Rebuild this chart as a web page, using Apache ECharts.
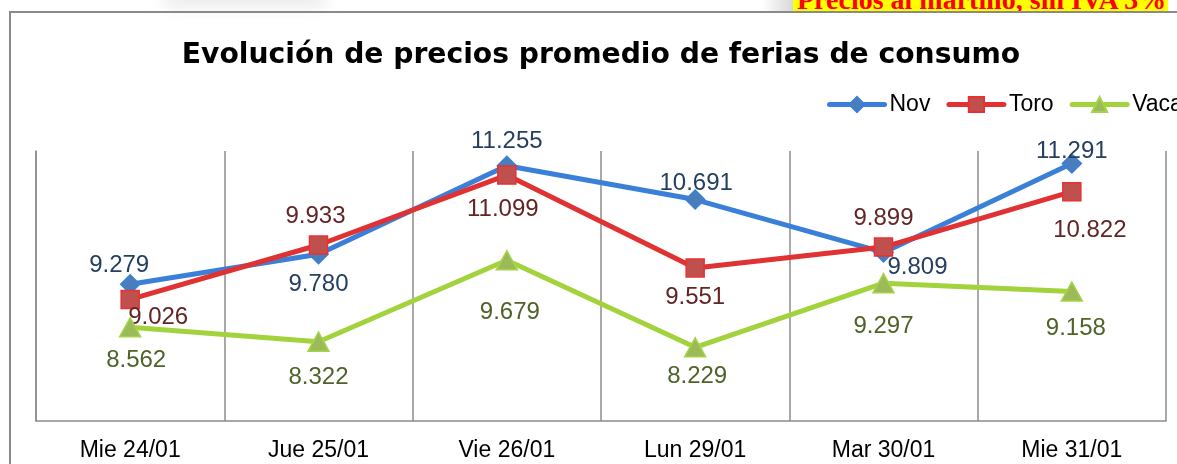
<!DOCTYPE html>
<html>
<head>
<meta charset="utf-8">
<script src="https://cdn.jsdelivr.net/npm/echarts@6/dist/echarts.min.js"></script>
<style>
  html, body { margin: 0; padding: 0; background: #fff; overflow: hidden; width: 1177px; height: 464px; }
  #frame { position: absolute; left: 9px; top: 11px; width: 1300px; height: 600px;
           border-left: 2px solid #8a8a8a; border-top: 2px solid #8a8a8a; }
  #smudge { position: absolute; left: 165px; top: -10px; width: 160px; height: 16px;
            background: #e8e8e8; filter: blur(8px); }
  #bannerShade { position: absolute; left: 762px; top: 0; width: 31px; height: 11px;
                 background: linear-gradient(to right, #fff, #d8d8d8); }
  #banner { position: absolute; left: 793px; top: 0; width: 375px; height: 11px;
            background: #ffff00; overflow: hidden; }
  #banner span { position: absolute; left: 4px; top: -16px; white-space: nowrap;
                 font: bold 28px "Liberation Serif", serif; color: #ff0000; }
  #chart { position: absolute; left: 0; top: 0; width: 1202px; height: 464px; }
</style>
</head>
<body>
<div id="smudge"></div>
<div id="bannerShade"></div>
<div id="banner"><span>Precios al martillo, sin IVA 3%</span></div>
<div id="frame"></div>
<div id="chart"></div>
<script>
// chart data
const days = ['Mie 24/01', 'Jue 25/01', 'Vie 26/01', 'Lun 29/01', 'Mar 30/01', 'Mie 31/01'];
const novValues = [9.279, 9.780, 11.255, 10.691, 9.809, 11.291];
const toroValues = [9.026, 9.933, 11.099, 9.551, 9.899, 10.822];
const vacaValues = [8.562, 8.322, 9.679, 8.229, 9.297, 9.158];

// where each value label sits relative to its marker (px)
const novLabelOffsets = [[-11, -19], [0, 30], [0, -24], [1, -16], [34, 15], [0, -12]];
const toroLabelOffsets = [[28, 18], [-3, -29], [-4, 34], [0, 29], [0, -29], [18, 39]];
const vacaLabelOffsets = [[6, 33], [0, 36], [3, 52], [2, 29], [0, 43], [4, 37]];

const fmt = v => v.toFixed(3);

const withLabels = (values, offsets) =>
  values.map((v, i) => ({ value: v, label: { offset: offsets[i] } }));

const makeSeries = (name, values, offsets, opts) => ({
  name,
  type: 'line',
  data: withLabels(values, offsets),
  symbol: opts.symbol,
  symbolSize: opts.symbolSize,
  lineStyle: { color: opts.line, width: 5, cap: 'round', join: 'round' },
  itemStyle: { color: opts.fill, borderColor: opts.border, borderWidth: 1.5 },
  label: {
    show: true,
    position: 'inside',
    formatter: p => fmt(p.value),
    color: opts.text,
    fontSize: 24,
    fontFamily: 'Liberation Sans, Arial, sans-serif'
  },
  emphasis: { disabled: true },
  animation: false,
  z: opts.z
});

const chart = echarts.init(document.getElementById('chart'), null, { renderer: 'canvas' });

chart.setOption({
  animation: false,
  title: {
    text: 'Evolución de precios promedio de ferias de consumo',
    left: 'center',
    top: 37,
    textStyle: { fontFamily: 'DejaVu Sans', fontWeight: 'bold', fontSize: 28.2, color: '#000' }
  },
  legend: {
    left: 827,
    top: 93,
    width: 500,
    padding: 0,
    itemWidth: 55,
    itemHeight: 19,
    itemGap: 16,
    lineStyle: { width: 5 },
    textStyle: { fontSize: 23, fontFamily: 'Liberation Sans, Arial, sans-serif', color: '#000' },
    data: ['Nov', 'Toro', 'Vaca']
  },
  grid: { left: 36, top: 151, width: 1130, height: 270, containLabel: false },
  xAxis: {
    type: 'category',
    data: days,
    boundaryGap: true,
    axisLine: { lineStyle: { color: '#8c8c8c', width: 1.5 } },
    axisTick: { show: false },
    axisLabel: {
      margin: 18,
      fontSize: 23,
      fontFamily: 'Liberation Sans, Arial, sans-serif',
      color: '#000'
    },
    splitLine: { show: true, lineStyle: { color: '#8c8c8c', width: 1.5 } }
  },
  yAxis: {
    type: 'value',
    min: 7,
    max: 11.5,
    interval: 0.5,
    axisLine: { show: true, lineStyle: { color: '#8c8c8c', width: 1.5 } },
    axisTick: { show: false },
    axisLabel: { show: false },
    splitLine: { show: false }
  },
  series: [
    makeSeries('Nov', novValues, novLabelOffsets, {
      symbol: 'diamond', symbolSize: 19, line: '#3a80d8', fill: '#4a7ebb', border: '#3a80d8', text: '#243f60', z: 2
    }),
    makeSeries('Toro', toroValues, toroLabelOffsets, {
      symbol: 'rect', symbolSize: 18, line: '#e03232', fill: '#c0504d', border: '#e63232', text: '#632523', z: 3
    }),
    makeSeries('Vaca', vacaValues, vacaLabelOffsets, {
      symbol: 'triangle', symbolSize: [21, 19], line: '#a2d33c', fill: '#9bbb59', border: '#a6d448', text: '#4f6228', z: 4
    })
  ]
});
</script>
</body>
</html>
